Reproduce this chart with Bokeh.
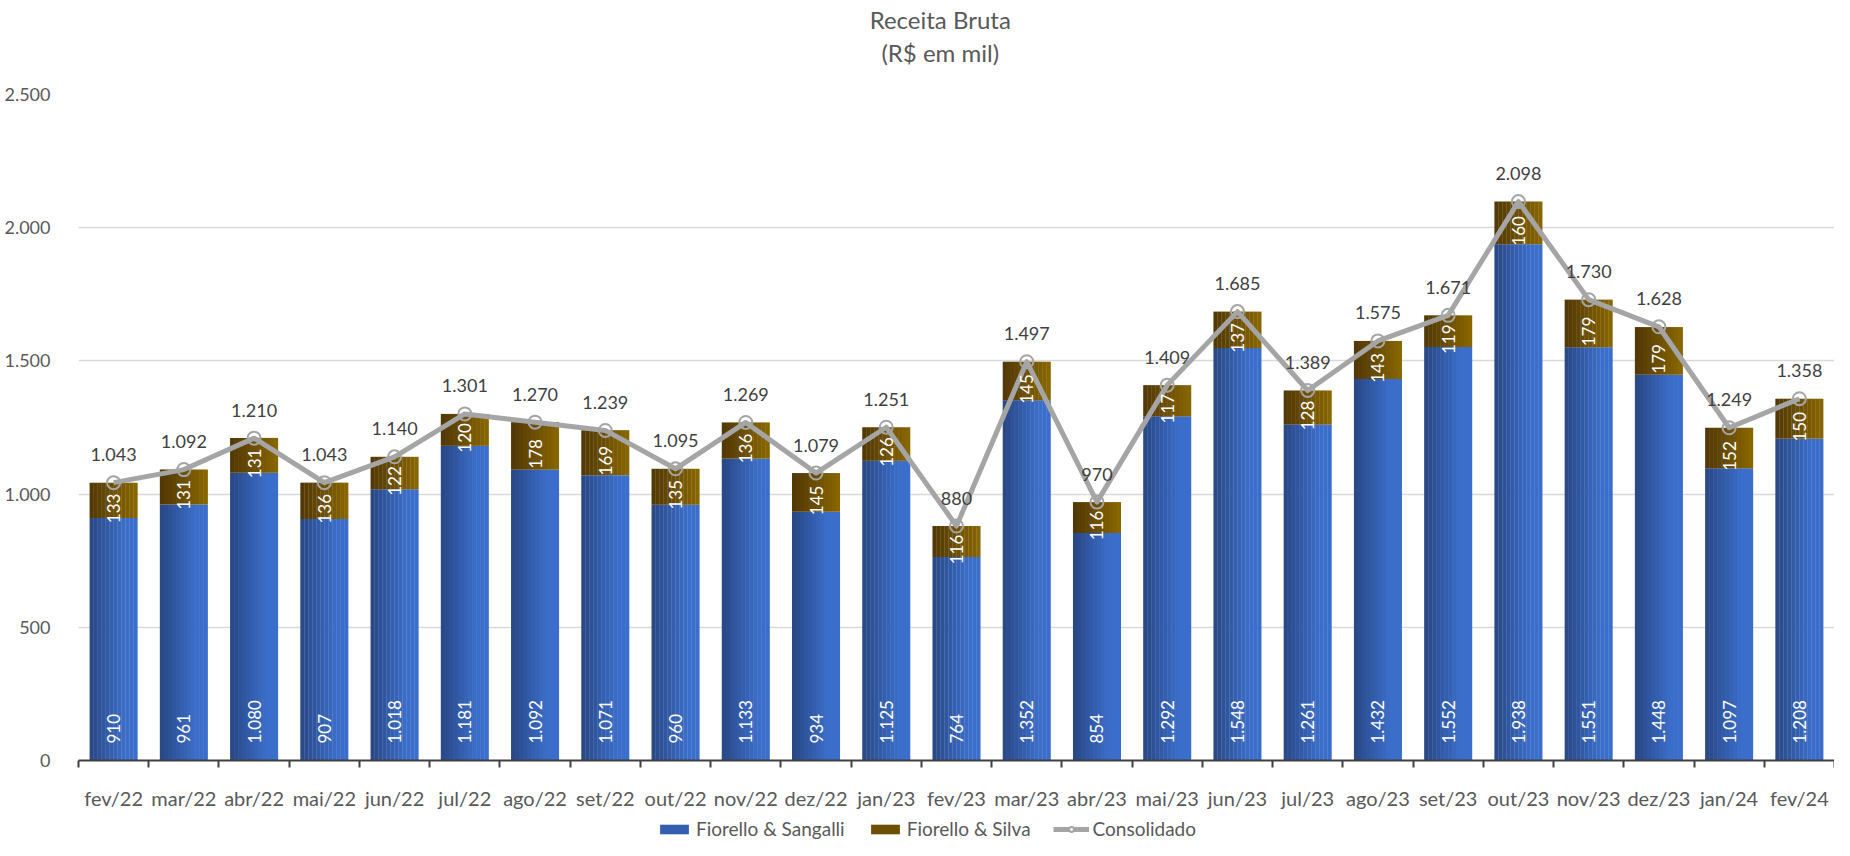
import numpy as np
from bokeh.plotting import figure
from bokeh.layouts import column
from bokeh.models import (ColumnDataSource, Range1d, FixedTicker,
                          Legend, LegendItem, Label)
from bokeh.transform import dodge
from bokeh.core.properties import value
from bokeh.embed import file_html
from bokeh.resources import INLINE

months = ["fev/22", "mar/22", "abr/22", "mai/22", "jun/22", "jul/22", "ago/22",
          "set/22", "out/22", "nov/22", "dez/22", "jan/23", "fev/23", "mar/23",
          "abr/23", "mai/23", "jun/23", "jul/23", "ago/23", "set/23", "out/23",
          "nov/23", "dez/23", "jan/24", "fev/24"]
sangalli = [910, 961, 1080, 907, 1018, 1181, 1092, 1071, 960, 1133, 934, 1125,
            764, 1352, 854, 1292, 1548, 1261, 1432, 1552, 1938, 1551, 1448, 1097, 1208]
silva = [133, 131, 131, 136, 122, 120, 178, 169, 135, 136, 145, 126,
         116, 145, 116, 117, 137, 128, 143, 119, 160, 179, 179, 152, 150]
consolidado = [1043, 1092, 1210, 1043, 1140, 1301, 1270, 1239, 1095, 1269, 1079, 1251,
               880, 1497, 970, 1409, 1685, 1389, 1575, 1671, 2098, 1730, 1628, 1249, 1358]
y_ticks = [0, 500, 1000, 1500, 2000, 2500]
y_tick_labels = ["0", "500", "1.000", "1.500", "2.000", "2.500"]
title_lines = ["Receita Bruta", "(R$ em mil)"]
series_names = ["Fiorello & Sangalli", "Fiorello & Silva", "Consolidado"]


def fmt(v):
    return f"{v:,}".replace(",", ".")


n = len(months)
xc = [i + 0.5 for i in range(n)]  # category centres on a numeric axis

src = ColumnDataSource(dict(
    x=xc,
    fs=sangalli,
    top2=[a + b for a, b in zip(sangalli, silva)],
    mid2=[a + b / 2 for a, b in zip(sangalli, silva)],
    tot=consolidado,
    fs_lbl=[fmt(v) for v in sangalli],
    sil_lbl=[fmt(v) for v in silva],
    tot_lbl=[fmt(v) for v in consolidado],
))

FONT = value("Lato")
GREY = "#595959"
BLUE0, BLUE1 = "#294987", "#3B6ECA"
BROWN0, BROWN1 = "#533905", "#876500"
LINE_C = "#A5A5A5"
W = 1834
TOP_H, LEG_H = 70, 28
MAIN_H = 840 - TOP_H - LEG_H


def lerp(c0, c1, t):
    a = [int(c0[i:i + 2], 16) for i in (1, 3, 5)]
    b = [int(c1[i:i + 2], 16) for i in (1, 3, 5)]
    return "#%02x%02x%02x" % tuple(int(round(x + (y - x) * t)) for x, y in zip(a, b))


def strip(height):
    f = figure(width=W, height=height, x_range=Range1d(0, W), y_range=Range1d(0, height),
               output_backend="svg", toolbar_location=None,
               x_axis_location=None, y_axis_location=None,
               min_border=0, min_border_left=0, min_border_right=0,
               min_border_top=0, min_border_bottom=0)
    f.title.visible = False
    f.grid.visible = False
    f.outline_line_color = None
    return f


# ---- title strip ----
tf = strip(TOP_H)
tf.add_layout(Label(x=900, y=TOP_H - 19, text=title_lines[0], text_align="center",
                    text_baseline="middle", text_font="Lato", text_font_size="24px",
                    text_color=GREY))
tf.add_layout(Label(x=900, y=TOP_H - 52, text=title_lines[1], text_align="center",
                    text_baseline="middle", text_font="Lato", text_font_size="24px",
                    text_color=GREY))

# ---- main chart ----
p = figure(x_range=Range1d(0, n), y_range=Range1d(0, 2500), width=W, height=MAIN_H,
           output_backend="svg", toolbar_location=None,
           min_border_left=78, min_border_right=0, min_border_top=94 - TOP_H,
           min_border_bottom=50)
p.title.visible = False
p.outline_line_color = None
p.background_fill_color = "white"

N = 12
BW = 0.68
for k in range(N):
    off = -BW / 2 + (k + 0.5) * BW / N
    t = k / (N - 1)
    cb = lerp(BLUE0, BLUE1, min(1.0, t * 1.3))
    cr = lerp(BROWN0, BROWN1, t)
    p.vbar(x=dodge("x", off), top="fs", bottom=0,
           width=BW / N + 0.004, source=src, fill_color=cb, line_color=None)
    p.vbar(x=dodge("x", off), top="top2", bottom="fs",
           width=BW / N + 0.004, source=src, fill_color=cr, line_color=None)

p.line(x="x", y="tot", source=src, line_color=LINE_C, line_width=5,
       line_join="round")
p.scatter(x="x", y="tot", source=src, marker="circle", size=13,
          line_color=LINE_C, line_width=2, fill_color=None)

p.text(x="x", y=0, text="fs_lbl", source=src, angle=np.pi / 2, text_align="left",
       text_baseline="middle", y_offset=-17, text_color="white", text_font=FONT,
       text_font_size="17px")
p.text(x="x", y="mid2", text="sil_lbl", source=src, angle=np.pi / 2,
       text_align="center", text_baseline="middle", y_offset=8,
       text_color="white", text_font=FONT, text_font_size="17px")
p.text(x="x", y="tot", text="tot_lbl", source=src, text_align="center",
       text_baseline="middle", y_offset=-28, text_color="#404040",
       text_font=FONT, text_font_size="18px")

# y axis
p.yaxis.ticker = FixedTicker(ticks=y_ticks)
p.yaxis.major_label_overrides = {t: l for t, l in zip(y_ticks, y_tick_labels)}
p.yaxis.axis_line_color = None
p.yaxis.major_tick_line_color = None
p.yaxis.minor_tick_line_color = None
p.yaxis.major_label_standoff = 22
p.yaxis.major_label_text_font = "Lato"
p.yaxis.major_label_text_font_size = "18px"
p.yaxis.major_label_text_color = GREY
p.ygrid.ticker = FixedTicker(ticks=y_ticks)
p.ygrid.grid_line_color = "#D9D9D9"
p.ygrid.grid_line_width = 1.5
p.xgrid.visible = False

# x axis: labels at centres (major), ticks at boundaries (minor)
p.xaxis.ticker = FixedTicker(ticks=xc, minor_ticks=list(range(n + 1)))
p.xaxis.major_label_overrides = {x: m for x, m in zip(xc, months)}
p.xaxis.major_tick_line_color = None
p.xaxis.major_tick_out = 0
p.xaxis.major_tick_in = 0
p.xaxis.minor_tick_out = 7
p.xaxis.minor_tick_in = 0
p.xaxis.minor_tick_line_color = "#404040"
p.xaxis.minor_tick_line_width = 2
p.xaxis.axis_line_color = "#404040"
p.xaxis.axis_line_width = 2
p.xaxis.major_label_standoff = 18
p.xaxis.major_label_text_font = "Lato"
p.xaxis.major_label_text_font_size = "20px"
p.xaxis.major_label_text_color = GREY

# ---- legend strip ----
lf = strip(LEG_H)
dummy = ColumnDataSource(dict(x=[np.nan], y=[np.nan], t=[np.nan], b=[np.nan]))
lb = lf.vbar(x="x", top="t", bottom="b", width=1, source=dummy,
             fill_color=lerp(BLUE0, BLUE1, 0.6), line_color=None)
lr = lf.vbar(x="x", top="t", bottom="b", width=1, source=dummy,
             fill_color=lerp(BROWN0, BROWN1, 0.5), line_color=None)
ll = lf.line(x="x", y="y", source=dummy, line_color=LINE_C, line_width=5)
ls = lf.scatter(x="x", y="y", source=dummy, marker="circle", size=11,
                line_color=LINE_C, line_width=2, fill_color="white")
legend = Legend(items=[
    LegendItem(label=series_names[0], renderers=[lb]),
    LegendItem(label=series_names[1], renderers=[lr]),
    LegendItem(label=series_names[2], renderers=[ll, ls]),
], location=(578, 0), orientation="horizontal", glyph_width=36, glyph_height=12,
    label_standoff=4, spacing=22, padding=0, margin=0, border_line_color=None,
    background_fill_alpha=0, label_text_font="Lato", label_text_font_size="19px",
    label_text_color=GREY)
lf.add_layout(legend, "center")

layout = column(tf, p, lf, spacing=0)
open("out.html", "w").write(file_html(layout, INLINE))
